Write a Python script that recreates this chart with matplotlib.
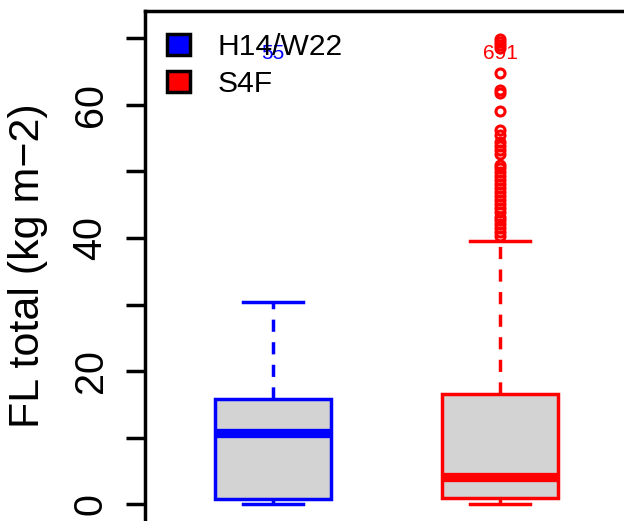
import numpy as np
import matplotlib
matplotlib.use('Agg')
import matplotlib.pyplot as plt
from matplotlib.patches import Patch

plt.rcParams['font.family'] = ['Liberation Sans', 'DejaVu Sans']

# --- data ------------------------------------------------------------------
groups = ['H14/W22', 'S4F']
colors = ['blue', 'red']
counts = ['55', '691']
positions = [1, 2]

q1 = [0.75, 0.9]
med = [10.7, 4.0]
q3 = [15.8, 16.5]
whislo = [0.05, 0.05]
whishi = [30.4, 39.5]

fliers_h14 = []
fliers_s4f = [69.9, 69.5, 69.0, 68.6, 64.8, 62.3, 61.8, 59.1, 56.2, 55.5,
              54.4, 53.8, 53.2, 52.6, 51.0, 50.5, 49.9, 49.3, 48.7, 48.1,
              47.5, 46.9, 46.3, 45.7, 45.1, 44.5, 43.9, 43.2, 42.7, 42.1,
              41.5, 40.9, 40.3]
fliers = [fliers_h14, fliers_s4f]

count_y = 67.8
yticks = [0, 10, 20, 30, 40, 50, 60, 70]
yticklabels = ['0', '', '20', '', '40', '', '60', '']

stats = []
for i in range(len(groups)):
    stats.append(dict(q1=q1[i], med=med[i], q3=q3[i], whislo=whislo[i],
                      whishi=whishi[i], fliers=np.array(fliers[i]),
                      label=groups[i]))

fig = plt.figure(figsize=(6.24, 5.21), dpi=100)
# plot region is cropped at the right and bottom edges of the picture
ax = fig.add_axes([145/624, -9/521, 497/624, 519.5/521])

lw = 2.5
bp = ax.bxp(stats, positions=positions, widths=0.511, capwidths=0.264,
            patch_artist=True, showfliers=True,
            boxprops=dict(facecolor='lightgray', linewidth=lw),
            medianprops=dict(linewidth=6.7, solid_capstyle='butt'),
            whiskerprops=dict(linewidth=lw, linestyle=(0, (3.5, 3))),
            capprops=dict(linewidth=lw),
            flierprops=dict(marker='o', markerfacecolor='none',
                            markersize=6.5, markeredgewidth=2.2,
                            linestyle='none'))

for i, c in enumerate(colors):
    bp['boxes'][i].set_edgecolor(c)
    bp['medians'][i].set_color(c)
    for art in bp['whiskers'][2*i:2*i+2] + bp['caps'][2*i:2*i+2]:
        art.set_color(c)
    bp['fliers'][i].set_markeredgecolor(c)
    ax.text(positions[i], count_y, counts[i], color=c, ha='center',
            va='center', fontsize=15)

ax.set_xlim(1 - 128/227, 2 + 142/227)
ax.set_ylim(-3.9, 74.2)
ax.set_xticks([])
ax.set_yticks(yticks)
ax.set_yticklabels(yticklabels, rotation=90, va='center', fontsize=28.5)
ax.tick_params(axis='y', length=13.5, width=2.5, pad=12)
for s in ax.spines.values():
    s.set_linewidth(2.5)

fig.text(28.5/624, 1 - 266/521, 'FL total (kg m\u22122)', rotation=90,
         ha='center', va='center', fontsize=31)

handles = [Patch(facecolor=c, edgecolor='black', linewidth=2.5) for c in colors]
ax.legend(handles, groups, loc='upper left', frameon=False, fontsize=21.6,
          bbox_to_anchor=(167/624, 1 - 33/521), bbox_transform=fig.transFigure,
          borderpad=0, borderaxespad=0, handlelength=0.77, handleheight=0.73,
          handletextpad=0.9, labelspacing=0.3)

fig.savefig('out.png', dpi=100)
